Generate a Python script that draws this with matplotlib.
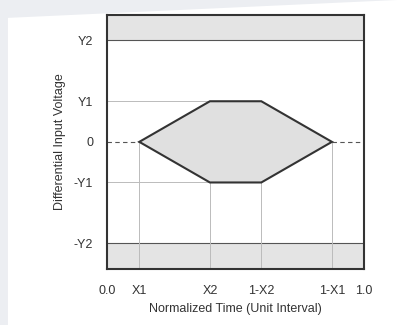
import matplotlib
matplotlib.use("Agg")
import matplotlib.pyplot as plt
from matplotlib.patches import Polygon, Rectangle

plt.rcParams['font.family'] = ['Liberation Sans', 'DejaVu Sans']

# Mask parameters (normalized)
X1 = 0.125
X2 = 0.40
Y1 = 0.32
Y2 = 0.80
YMIN, YMAX = -1.0, 1.0

x_ticks = [0.0, X1, X2, 1 - X2, 1 - X1, 1.0]
x_labels = ["0.0", "X1", "X2", "1-X2", "1-X1", "1.0"]
y_ticks = [Y2, Y1, 0.0, -Y1, -Y2]
y_labels = ["Y2", "Y1", "0", "-Y1", "-Y2"]

hex_x = [X1, X2, 1 - X2, 1 - X1, 1 - X2, X2]
hex_y = [0.0, Y1, Y1, 0.0, -Y1, -Y1]

fig = plt.figure(figsize=(3.97, 3.25), dpi=100)
fig.patch.set_facecolor("#eceef2")
# paper sheet (slightly tilted white page)
fig.add_artist(Polygon([(0.02, 0.945), (1.0, 1.0), (1.0, 0.0), (0.02, 0.0)],
                       closed=True, transform=fig.transFigure,
                       facecolor="white", edgecolor="none", zorder=0))

ax = fig.add_axes([0.27, 0.173, 0.647, 0.781])
ax.set_xlim(0, 1)
ax.set_ylim(YMIN, YMAX)
ax.set_facecolor("white")

band = "#e4e4e4"
ax.add_patch(Rectangle((0, Y2), 1, YMAX - Y2, facecolor=band, edgecolor="none", zorder=1))
ax.add_patch(Rectangle((0, YMIN), 1, -Y2 - YMIN, facecolor=band, edgecolor="none", zorder=1))
ax.axhline(Y2, color="#555555", lw=0.8, zorder=2)
ax.axhline(-Y2, color="#555555", lw=0.8, zorder=2)

gc = "#bbbbbb"
# vertical guides from bottom to hexagon vertices
ax.plot([X1, X1], [YMIN, 0], color=gc, lw=0.7, zorder=2)
ax.plot([1 - X1, 1 - X1], [YMIN, 0], color=gc, lw=0.7, zorder=2)
ax.plot([X2, X2], [YMIN, -Y1], color=gc, lw=0.7, zorder=2)
ax.plot([1 - X2, 1 - X2], [YMIN, -Y1], color=gc, lw=0.7, zorder=2)
# horizontal guides
ax.plot([0, X2], [Y1, Y1], color=gc, lw=0.7, zorder=2)
ax.plot([0, X2], [-Y1, -Y1], color=gc, lw=0.7, zorder=2)
ax.plot([0, X1], [0, 0], color="#555555", lw=0.8, ls=(0, (4, 3)), zorder=2)
ax.plot([1 - X1, 1], [0, 0], color="#555555", lw=0.8, ls=(0, (4, 3)), zorder=2)

ax.add_patch(Polygon(list(zip(hex_x, hex_y)), closed=True, facecolor="#e0e0e0",
                     edgecolor="#333333", lw=1.5, zorder=3))

ax.set_xticks(x_ticks)
ax.set_xticklabels(x_labels)
ax.set_yticks(y_ticks)
ax.set_yticklabels(y_labels)
ax.tick_params(length=0, labelsize=9, colors="#333333", pad=10)
ax.tick_params(axis="x", pad=12)
for s in ax.spines.values():
    s.set_linewidth(1.5)
    s.set_color("#333333")
ax.set_xlabel("Normalized Time (Unit Interval)", fontsize=9, color="#333333", labelpad=4)
ax.set_ylabel("Differential Input Voltage", fontsize=9, color="#333333", labelpad=6)

fig.savefig("out.png", dpi=100, facecolor=fig.get_facecolor())
